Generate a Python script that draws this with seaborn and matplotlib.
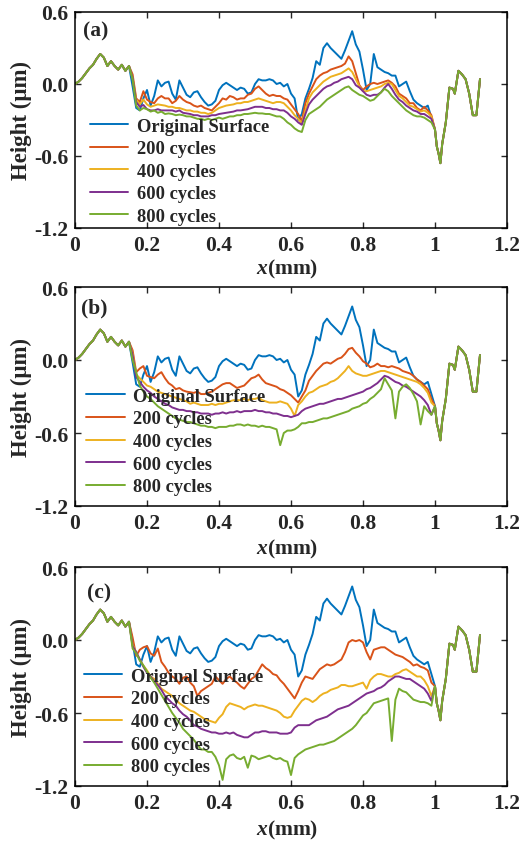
import numpy as np
import pandas as pd
import matplotlib
matplotlib.use("Agg")
import matplotlib.pyplot as plt
import seaborn as sns

# ---------------- data ----------------
SERIES = ["Original Surface", "200 cycles", "400 cycles", "600 cycles", "800 cycles"]
COLORS = ["#0072BD", "#D95319", "#EDB120", "#7E2F8E", "#77AC30"]
PANEL_LABELS = ["(a)", "(b)", "(c)"]
X_TICKS = [0, 0.2, 0.4, 0.6, 0.8, 1.0, 1.2]
X_TICKLABELS = ["0", "0.2", "0.4", "0.6", "0.8", "1", "1.2"]
Y_TICKS = [-1.2, -0.6, 0.0, 0.6]
Y_TICKLABELS = ["-1.2", "-0.6", "0.0", "0.6"]

# shared left part (0 - 0.15 mm)
COMMON_X = [0.00, 0.01, 0.02, 0.03, 0.04, 0.05, 0.06, 0.07, 0.08, 0.09, 0.10, 0.11, 0.12, 0.13, 0.14, 0.15]
COMMON_Y = [0.00, 0.02, 0.05, 0.09, 0.13, 0.16, 0.21, 0.25, 0.22, 0.15, 0.19, 0.15, 0.12, 0.16, 0.11, 0.15]

# middle part (0.16 - 0.99 mm, step 0.01)
MID_X = [round(0.16 + 0.01 * i, 2) for i in range(84)]

# shared right part (1.00 - 1.125 mm)
TAIL_X = [1.00, 1.005, 1.01, 1.015, 1.02, 1.03, 1.04, 1.05, 1.055, 1.065, 1.075, 1.085, 1.095, 1.105, 1.115, 1.125]
TAIL_Y = [-0.38, -0.52, -0.58, -0.66, -0.50, -0.32, -0.03, -0.04, -0.08, 0.11, 0.08, 0.04, -0.08, -0.26, -0.26, 0.04]

ORIGINAL = [
    -0.02, -0.20, -0.22, -0.12, -0.05, -0.18, -0.10, 0.03, -0.02, 0.01,
    0.02, -0.08, -0.13, 0.03, -0.03, -0.09, -0.11, -0.07, -0.06, -0.11,
    -0.15, -0.18, -0.17, -0.14, -0.05, -0.01, 0.01, -0.01, -0.03, -0.05,
    -0.03, -0.04, -0.08, -0.07, 0.00, 0.04, 0.03, 0.03, 0.04, 0.03,
    0.00, 0.01, -0.02, 0.00, -0.08, -0.12, -0.30, -0.25, -0.12, -0.04,
    0.05, 0.19, 0.16, 0.30, 0.34, 0.30, 0.27, 0.24, 0.21, 0.28,
    0.36, 0.44, 0.33, 0.27, 0.12, -0.05, 0.00, 0.25, 0.14, 0.12,
    0.10, 0.09, 0.07, 0.07, -0.02, 0.00, 0.02, -0.06, -0.13, -0.16,
    -0.18, -0.20, -0.18, -0.28]

# panel (a)
A_200 = [
    0.08, -0.12, -0.15, -0.06, -0.13, -0.15, -0.16, -0.12, -0.10, -0.12,
    -0.12, -0.16, -0.14, -0.10, -0.13, -0.15, -0.16, -0.18, -0.19, -0.18,
    -0.20, -0.21, -0.22, -0.19, -0.16, -0.12, -0.13, -0.10, -0.11, -0.13,
    -0.12, -0.12, -0.09, -0.08, -0.04, -0.02, -0.05, -0.08, -0.10, -0.09,
    -0.10, -0.10, -0.12, -0.13, -0.17, -0.21, -0.25, -0.31, -0.16, -0.08,
    -0.02, 0.04, 0.07, 0.09, 0.10, 0.12, 0.13, 0.14, 0.15, 0.17,
    0.23, 0.19, 0.09, -0.01, -0.05, -0.02, 0.00, 0.01, 0.00, 0.01,
    0.02, 0.03, 0.01, -0.02, -0.08, -0.10, -0.12, -0.16, -0.16, -0.20,
    -0.22, -0.19, -0.22, -0.26]
A_400 = [
    0.05, -0.13, -0.17, -0.13, -0.17, -0.19, -0.18, -0.17, -0.175, -0.18,
    -0.19, -0.19, -0.20, -0.20, -0.21, -0.22, -0.22, -0.23, -0.23, -0.24,
    -0.24, -0.25, -0.24, -0.22, -0.20, -0.19, -0.18, -0.175, -0.17, -0.16,
    -0.16, -0.15, -0.15, -0.14, -0.13, -0.12, -0.13, -0.14, -0.15, -0.16,
    -0.15, -0.15, -0.16, -0.19, -0.22, -0.26, -0.29, -0.33, -0.22, -0.12,
    -0.07, -0.04, -0.01, 0.02, 0.04, 0.06, 0.07, 0.08, 0.09, 0.11,
    0.13, 0.10, 0.04, -0.02, -0.06, -0.06, -0.05, -0.04, -0.03, -0.02,
    0.00, 0.01, 0.00, -0.05, -0.10, -0.12, -0.15, -0.18, -0.19, -0.21,
    -0.23, -0.22, -0.24, -0.27]
A_600 = [
    0.05, -0.15, -0.19, -0.175, -0.21, -0.22, -0.22, -0.21, -0.22, -0.22,
    -0.22, -0.22, -0.23, -0.22, -0.24, -0.245, -0.25, -0.26, -0.26, -0.27,
    -0.27, -0.27, -0.26, -0.26, -0.25, -0.245, -0.24, -0.235, -0.23, -0.22,
    -0.22, -0.215, -0.21, -0.20, -0.19, -0.19, -0.19, -0.20, -0.20, -0.21,
    -0.21, -0.22, -0.22, -0.24, -0.27, -0.29, -0.32, -0.34, -0.25, -0.17,
    -0.13, -0.10, -0.07, -0.04, -0.02, -0.01, 0.01, 0.02, 0.04, 0.05,
    0.06, 0.04, -0.01, -0.03, -0.06, -0.09, -0.10, -0.09, -0.09, -0.07,
    -0.03, 0.00, -0.04, -0.09, -0.13, -0.15, -0.18, -0.20, -0.22, -0.23,
    -0.25, -0.25, -0.27, -0.29]
A_800 = [
    0.04, -0.18, -0.22, -0.20, -0.21, -0.23, -0.22, -0.24, -0.23, -0.25,
    -0.245, -0.25, -0.26, -0.255, -0.26, -0.27, -0.27, -0.28, -0.29, -0.29,
    -0.30, -0.29, -0.30, -0.29, -0.28, -0.29, -0.28, -0.27, -0.27, -0.26,
    -0.26, -0.25, -0.25, -0.245, -0.24, -0.245, -0.245, -0.25, -0.25, -0.26,
    -0.27, -0.27, -0.29, -0.32, -0.34, -0.37, -0.39, -0.40, -0.30, -0.25,
    -0.23, -0.21, -0.19, -0.16, -0.13, -0.11, -0.09, -0.07, -0.05, -0.03,
    -0.02, -0.05, -0.07, -0.09, -0.10, -0.12, -0.14, -0.13, -0.10, -0.07,
    -0.04, -0.06, -0.10, -0.13, -0.16, -0.19, -0.22, -0.24, -0.26, -0.27,
    -0.27, -0.28, -0.30, -0.32]

# panel (b)
B_200 = [
    0.08, -0.10, -0.07, -0.05, -0.13, -0.14, -0.15, -0.12, -0.10, -0.15,
    -0.19, -0.21, -0.24, -0.23, -0.25, -0.26, -0.265, -0.27, -0.26, -0.28,
    -0.28, -0.27, -0.26, -0.24, -0.22, -0.20, -0.19, -0.19, -0.21, -0.23,
    -0.22, -0.21, -0.18, -0.15, -0.14, -0.12, -0.16, -0.19, -0.20, -0.21,
    -0.22, -0.24, -0.25, -0.27, -0.29, -0.32, -0.35, -0.30, -0.25, -0.17,
    -0.13, -0.09, -0.06, -0.03, -0.02, -0.03, -0.01, 0.01, 0.02, 0.05,
    0.09, 0.10, 0.06, 0.03, -0.01, -0.03, -0.06, -0.05, -0.03, -0.05,
    -0.05, -0.06, -0.05, -0.06, -0.07, -0.09, -0.10, -0.11, -0.13, -0.16,
    -0.18, -0.21, -0.24, -0.32]
B_400 = [
    0.05, -0.12, -0.15, -0.18, -0.21, -0.22, -0.24, -0.26, -0.27, -0.28,
    -0.29, -0.30, -0.31, -0.32, -0.33, -0.34, -0.36, -0.35, -0.36, -0.37,
    -0.37, -0.37, -0.36, -0.37, -0.36, -0.36, -0.35, -0.34, -0.33, -0.33,
    -0.33, -0.32, -0.33, -0.32, -0.32, -0.31, -0.33, -0.34, -0.35, -0.35,
    -0.35, -0.34, -0.35, -0.36, -0.40, -0.46, -0.37, -0.34, -0.30, -0.27,
    -0.26, -0.24, -0.22, -0.21, -0.20, -0.18, -0.17, -0.15, -0.12, -0.09,
    -0.05, -0.09, -0.11, -0.12, -0.13, -0.13, -0.12, -0.11, -0.10, -0.09,
    -0.09, -0.10, -0.11, -0.12, -0.13, -0.14, -0.15, -0.16, -0.17, -0.18,
    -0.20, -0.23, -0.27, -0.35]
B_600 = [
    0.04, -0.14, -0.18, -0.22, -0.25, -0.27, -0.30, -0.32, -0.34, -0.36,
    -0.37, -0.39, -0.40, -0.41, -0.41, -0.42, -0.42, -0.43, -0.43, -0.44,
    -0.44, -0.44, -0.45, -0.44, -0.44, -0.43, -0.44, -0.43, -0.43, -0.42,
    -0.43, -0.42, -0.42, -0.42, -0.41, -0.42, -0.42, -0.43, -0.43, -0.44,
    -0.44, -0.45, -0.46, -0.46, -0.47, -0.46, -0.45, -0.42, -0.40, -0.39,
    -0.38, -0.37, -0.36, -0.36, -0.35, -0.34, -0.33, -0.32, -0.32, -0.31,
    -0.30, -0.29, -0.28, -0.27, -0.26, -0.24, -0.23, -0.21, -0.19, -0.16,
    -0.13, -0.14, -0.16, -0.18, -0.19, -0.21, -0.22, -0.24, -0.26, -0.28,
    -0.30, -0.33, -0.37, -0.45]
B_800 = [
    0.00, -0.10, -0.21, -0.26, -0.30, -0.32, -0.35, -0.38, -0.40, -0.42,
    -0.44, -0.46, -0.48, -0.49, -0.50, -0.51, -0.51, -0.52, -0.53, -0.54,
    -0.54, -0.55, -0.55, -0.56, -0.55, -0.55, -0.55, -0.54, -0.54, -0.53,
    -0.53, -0.54, -0.53, -0.54, -0.54, -0.55, -0.54, -0.55, -0.55, -0.56,
    -0.57, -0.70, -0.60, -0.58, -0.58, -0.57, -0.55, -0.52, -0.52, -0.51,
    -0.51, -0.50, -0.49, -0.48, -0.48, -0.47, -0.46, -0.45, -0.44, -0.43,
    -0.42, -0.40, -0.39, -0.38, -0.36, -0.35, -0.32, -0.30, -0.27, -0.24,
    -0.15, -0.20, -0.25, -0.48, -0.26, -0.22, -0.20, -0.23, -0.28, -0.34,
    -0.53, -0.38, -0.42, -0.45]

# panel (c)
C_200 = [
    0.02, -0.13, -0.08, -0.06, -0.05, -0.11, -0.13, -0.07, -0.18, -0.22,
    -0.27, -0.30, -0.32, -0.36, -0.31, -0.30, -0.35, -0.38, -0.46, -0.42,
    -0.40, -0.38, -0.36, -0.30, -0.33, -0.36, -0.32, -0.30, -0.33, -0.35,
    -0.38, -0.40, -0.36, -0.32, -0.30, -0.25, -0.20, -0.23, -0.25, -0.28,
    -0.29, -0.33, -0.36, -0.40, -0.44, -0.48, -0.42, -0.35, -0.30, -0.31,
    -0.32, -0.28, -0.24, -0.22, -0.20, -0.21, -0.20, -0.18, -0.16, -0.10,
    -0.02, 0.00, -0.01, 0.00, -0.02, -0.10, -0.16, -0.08, -0.07, -0.06,
    -0.06, -0.08, -0.10, -0.12, -0.13, -0.14, -0.16, -0.18, -0.21, -0.20,
    -0.22, -0.23, -0.25, -0.35]
C_400 = [
    -0.04, -0.10, -0.16, -0.21, -0.25, -0.30, -0.32, -0.36, -0.40, -0.42,
    -0.44, -0.46, -0.49, -0.52, -0.54, -0.56, -0.58, -0.59, -0.61, -0.63,
    -0.65, -0.66, -0.67, -0.68, -0.64, -0.61, -0.55, -0.52, -0.53, -0.54,
    -0.55, -0.57, -0.55, -0.54, -0.53, -0.54, -0.54, -0.55, -0.56, -0.57,
    -0.58, -0.60, -0.63, -0.64, -0.63, -0.58, -0.54, -0.50, -0.48, -0.49,
    -0.51, -0.49, -0.46, -0.44, -0.43, -0.41, -0.40, -0.39, -0.37, -0.37,
    -0.38, -0.38, -0.37, -0.36, -0.35, -0.40, -0.33, -0.30, -0.28, -0.28,
    -0.29, -0.30, -0.30, -0.28, -0.27, -0.25, -0.24, -0.26, -0.28, -0.30,
    -0.30, -0.33, -0.38, -0.46]
C_600 = [
    -0.05, -0.10, -0.16, -0.22, -0.27, -0.30, -0.34, -0.37, -0.41, -0.46,
    -0.49, -0.52, -0.54, -0.58, -0.61, -0.63, -0.66, -0.70, -0.71, -0.73,
    -0.74, -0.75, -0.76, -0.76, -0.77, -0.77, -0.76, -0.77, -0.76, -0.78,
    -0.79, -0.80, -0.80, -0.78, -0.76, -0.76, -0.75, -0.75, -0.76, -0.76,
    -0.76, -0.77, -0.77, -0.77, -0.76, -0.72, -0.70, -0.70, -0.70, -0.70,
    -0.68, -0.66, -0.65, -0.64, -0.63, -0.61, -0.59, -0.57, -0.56, -0.55,
    -0.54, -0.52, -0.50, -0.48, -0.46, -0.44, -0.43, -0.42, -0.40, -0.39,
    -0.37, -0.34, -0.32, -0.30, -0.30, -0.31, -0.32, -0.32, -0.34, -0.36,
    -0.38, -0.40, -0.44, -0.50]
C_800 = [
    -0.07, -0.11, -0.17, -0.21, -0.26, -0.31, -0.35, -0.40, -0.45, -0.50,
    -0.55, -0.60, -0.64, -0.68, -0.73, -0.76, -0.79, -0.82, -0.86, -0.90,
    -0.90, -0.92, -0.92, -0.96, -1.03, -1.15, -0.98, -0.95, -0.94, -0.97,
    -0.98, -0.96, -1.05, -0.95, -0.96, -0.98, -0.97, -0.96, -0.95, -0.97,
    -0.98, -0.97, -0.99, -1.00, -1.11, -0.97, -0.94, -0.92, -0.90, -0.89,
    -0.88, -0.87, -0.86, -0.86, -0.85, -0.84, -0.83, -0.81, -0.79, -0.77,
    -0.75, -0.73, -0.70, -0.66, -0.62, -0.60, -0.56, -0.52, -0.51, -0.50,
    -0.49, -0.48, -0.83, -0.49, -0.40, -0.42, -0.43, -0.46, -0.49, -0.50,
    -0.51, -0.51, -0.52, -0.54]

PANELS = [
    [ORIGINAL, A_200, A_400, A_600, A_800],
    [ORIGINAL, B_200, B_400, B_600, B_800],
    [ORIGINAL, C_200, C_400, C_600, C_800],
]

# ---------------- style ----------------
sns.set_style("ticks")
plt.rcParams["font.family"] = ["Liberation Serif", "DejaVu Serif"]
plt.rcParams["font.weight"] = "bold"
plt.rcParams["axes.labelweight"] = "bold"
plt.rcParams["mathtext.fontset"] = "custom"
plt.rcParams["mathtext.it"] = "Liberation Serif:italic:bold"
plt.rcParams["mathtext.rm"] = "Liberation Serif:bold"

W, H = 526, 845
fig = plt.figure(figsize=(W / 100, H / 100), dpi=100)

# axes boxes in pixels: (left, top, width, height)
BOXES = [(75, 13, 432, 216), (75, 288, 432, 219), (75, 568, 432, 219)]
LABEL_POS = [(0.019, 0.915), (0.013, 0.905), (0.028, 0.885)]
LEG_POS = [(0.034, 0.015), (0.025, 0.05), (0.02, 0.05)]
XLAB_Y = [-0.186, -0.196, -0.2]

for i, (box, series_vals) in enumerate(zip(BOXES, PANELS)):
    l, t, w, h = box
    ax = fig.add_axes([l / W, 1 - (t + h) / H, w / W, h / H])
    frames = []
    for name, vals in zip(SERIES, series_vals):
        xs = COMMON_X + MID_X + TAIL_X
        ys = COMMON_Y + vals + TAIL_Y
        frames.append(pd.DataFrame({"x": xs, "height": ys, "series": name}))
    df = pd.concat(frames, ignore_index=True)
    sns.lineplot(data=df, x="x", y="height", hue="series", hue_order=SERIES,
                 palette=COLORS, estimator=None, sort=False, linewidth=1.4,
                 ax=ax)
    ax.set_xlim(0, 1.2)
    ax.set_ylim(-1.2, 0.6)
    ax.set_xticks(X_TICKS)
    ax.set_xticklabels(X_TICKLABELS)
    ax.set_yticks(Y_TICKS)
    ax.set_yticklabels(Y_TICKLABELS)
    ax.tick_params(direction="in", length=4.5, width=1.0, top=True, right=True,
                   labelsize=15.5, pad=5)
    ax.tick_params(axis="x", pad=5)
    for sp in ax.spines.values():
        sp.set_linewidth(1.1)
        sp.set_color("black")
    ax.set_xlabel(r"$\it{x}$(mm)", fontsize=15.5, fontweight="bold")
    ax.xaxis.set_label_coords(0.49, XLAB_Y[i])
    ax.xaxis.label.set_va("center")
    ax.set_ylabel("Height (μm)", fontsize=16.5, fontweight="bold")
    ax.yaxis.set_label_coords(-0.123, 0.5)
    ax.yaxis.label.set_va("center")
    ax.text(LABEL_POS[i][0], LABEL_POS[i][1], PANEL_LABELS[i], transform=ax.transAxes,
            fontsize=15.5, fontweight="bold", ha="left", va="center")
    handles, labels = ax.get_legend_handles_labels()
    ax.legend(handles, labels, loc="lower left", bbox_to_anchor=LEG_POS[i],
              frameon=False, handlelength=2.1, handletextpad=0.45,
              labelspacing=0.3, borderpad=0, borderaxespad=0,
              prop={"weight": "bold", "size": 13.3})

fig.savefig("out.png", dpi=100)
